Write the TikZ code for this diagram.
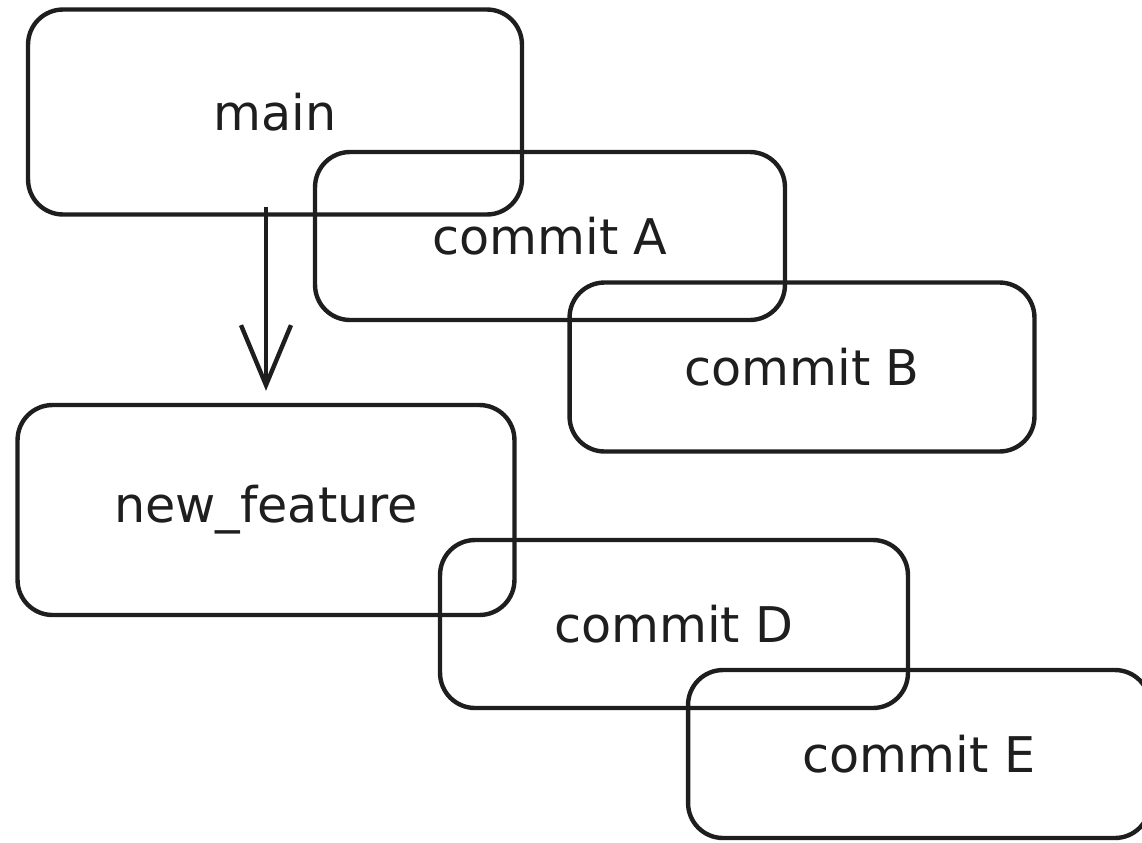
\documentclass[tikz,border=0pt]{standalone}
\usepackage{fontspec}
\setmainfont{DejaVu Sans}
\usetikzlibrary{arrows.meta, positioning}
\definecolor{ink}{HTML}{1E1E1E}

\begin{document}
\begin{tikzpicture}[x=0.02cm, y=-0.02cm, >=Stealth,
    branch/.style={draw=ink, line width=2.5pt, rounded corners=0.7cm,
                   font=\fontsize{28}{32}\selectfont, text=ink},
    flow/.style={draw=ink, line width=2.5pt,
                 -{Straight Barb[length=1.2cm, width=1.0cm]}}]
  \useasboundingbox (0,0) rectangle (1142,842);

  % main line
  \node[branch, minimum width=9.88cm, minimum height=4.1cm] (main) at (275,112) {main};
  \node[branch, minimum width=9.4cm, minimum height=3.36cm] (ca) at (550,236) {commit A};
  \node[branch, minimum width=9.3cm, minimum height=3.38cm] (cb) at (802,367) {commit B};

  % feature branch
  \node[branch, minimum width=9.94cm, minimum height=4.2cm] (nf) at (266,510) {new\_feature};
  \node[branch, minimum width=9.36cm, minimum height=3.36cm] (cd) at (674,624) {commit D};
  \node[branch, minimum width=9.24cm, minimum height=3.36cm] (ce) at (919,754) {commit E};

  \draw[flow] ([yshift=0.2cm]main.south -| nf.north) -- ([yshift=0.24cm]nf.north);
\end{tikzpicture}
\end{document}
